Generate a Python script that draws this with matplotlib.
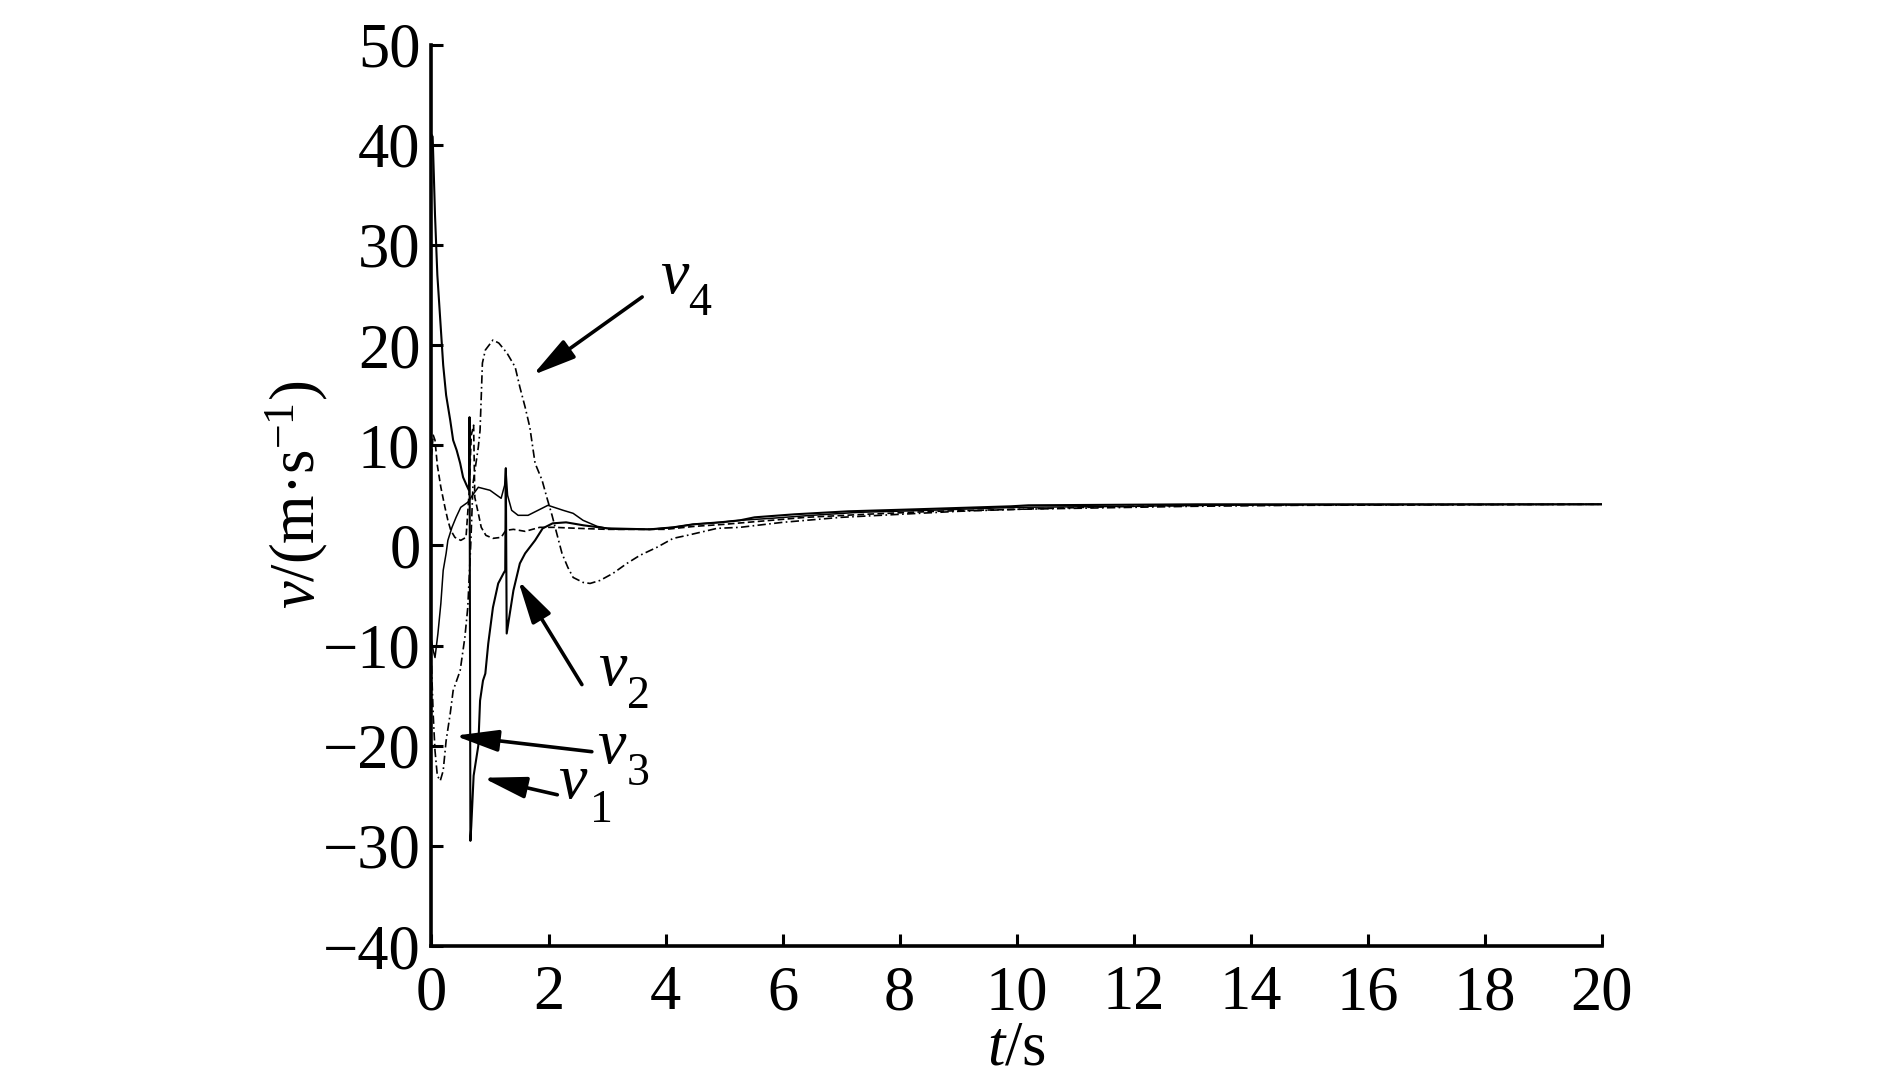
import matplotlib
matplotlib.use("Agg")
import matplotlib.pyplot as plt

plt.rcParams['font.family'] = 'Liberation Serif'
plt.rcParams['mathtext.fontset'] = 'custom'
plt.rcParams['mathtext.rm'] = 'Liberation Serif'
plt.rcParams['mathtext.it'] = 'Liberation Serif:italic'

# v1 - starter paa 40
t1 = [0.0, 0.02, 0.04, 0.06, 0.10, 0.15, 0.20, 0.25, 0.32, 0.37, 0.43, 0.49, 0.54, 0.60, 0.64, 0.65,
      0.665, 0.68, 0.72, 0.80, 0.83, 0.88, 0.92, 0.97, 1.05, 1.14, 1.23, 1.26, 1.27, 1.285, 1.40, 1.51,
      1.60, 1.77, 1.90, 2.07, 2.30, 2.60, 3.00, 3.73, 4.13, 4.47, 4.93, 5.27, 5.52, 6.20, 7.12, 8.27,
      9.90, 10.20, 13.10, 20.0]
v1 = [41.0, 40.8, 37.0, 33.0, 27.0, 22.5, 18.0, 15.0, 12.5, 10.5, 9.5, 8.2, 6.8, 6.0, 5.5, 12.8,
      -29.5, -28.0, -23.0, -20.0, -15.5, -13.5, -12.8, -9.8, -6.2, -3.8, -2.8, -2.5, 7.7, -8.8, -4.5, -1.8,
      -0.8, 0.5, 1.7, 2.2, 2.3, 2.0, 1.7, 1.6, 1.8, 2.1, 2.3, 2.5, 2.8, 3.1, 3.4, 3.6,
      3.9, 4.0, 4.1, 4.1]

# v2 - starter rundt 10
t2 = [0.0, 0.03, 0.06, 0.10, 0.16, 0.23, 0.28, 0.33, 0.40, 0.50, 0.59, 0.64, 0.68, 0.72, 0.74,
      0.80, 0.85, 0.93, 1.05, 1.19, 1.27, 1.40, 1.60, 1.85, 2.10, 2.50, 3.00, 4.00, 4.50, 5.00,
      5.60, 6.40, 7.40, 8.60, 10.0, 11.2, 12.0, 13.2, 14.8, 20.0]
v2 = [9.0, 11.0, 10.5, 8.0, 5.8, 3.8, 2.5, 1.5, 0.8, 0.5, 0.8, 5.0, 11.0, 12.0, 4.8,
      3.2, 1.8, 1.0, 0.7, 0.8, 1.5, 1.6, 1.4, 1.8, 1.8, 1.7, 1.6, 1.6, 1.9, 2.1,
      2.4, 2.8, 3.1, 3.4, 3.6, 3.8, 3.9, 4.0, 4.05, 4.1]

# v3 - starter rundt -10
t3 = [0.0, 0.03, 0.06, 0.11, 0.16, 0.20, 0.25, 0.28, 0.35, 0.42, 0.50, 0.62, 0.70, 0.80, 1.00,
      1.19, 1.25, 1.27, 1.30, 1.37, 1.48, 1.65, 1.82, 1.99, 2.25, 2.42, 2.59, 2.71, 2.83, 3.00,
      3.17, 3.73, 4.13, 4.47, 4.93, 5.27, 5.80, 6.50, 7.30, 8.50, 10.0, 12.0, 13.1, 14.8, 20.0]
v3 = [-9.5, -10.5, -11.2, -8.8, -5.8, -2.5, -0.8, 0.5, 1.8, 2.8, 3.8, 4.3, 5.0, 5.8, 5.5,
      4.7, 6.0, 7.7, 5.0, 3.5, 3.0, 3.0, 3.5, 4.0, 3.5, 3.2, 2.5, 2.2, 1.9, 1.7,
      1.6, 1.6, 1.8, 2.1, 2.3, 2.5, 2.7, 3.0, 3.3, 3.5, 3.8, 3.9, 4.0, 4.05, 4.1]

# v4 - stor topp paa ca 20
t4 = [0.0, 0.03, 0.06, 0.10, 0.15, 0.20, 0.25, 0.32, 0.37, 0.49, 0.57, 0.62, 0.67, 0.71, 0.76,
      0.80, 0.83, 0.85, 0.87, 0.92, 1.05, 1.15, 1.29, 1.43, 1.51, 1.60, 1.68, 1.77, 1.89, 1.97,
      2.06, 2.14, 2.23, 2.33, 2.42, 2.59, 2.71, 2.88, 3.10, 3.34, 3.56, 3.85, 4.13, 4.37, 4.59,
      4.88, 5.27, 6.0, 7.0, 8.0, 9.0, 10.0, 11.0, 12.0, 13.0, 14.8, 20.0]
v4 = [-12.0, -17.0, -20.5, -23.0, -23.5, -22.5, -19.5, -16.8, -14.5, -12.5, -9.2, -6.2, 0.0, 6.2, 8.2,
      9.8, 11.5, 14.8, 18.2, 19.5, 20.5, 20.2, 19.2, 17.8, 15.8, 13.8, 11.8, 8.2, 6.5, 4.8,
      3.0, 1.2, -0.8, -2.2, -3.2, -3.7, -3.8, -3.5, -2.8, -1.8, -1.0, -0.2, 0.7, 1.0, 1.3,
      1.7, 1.8, 2.3, 2.8, 3.1, 3.4, 3.6, 3.7, 3.8, 3.9, 4.0, 4.1]

x_ticks = [0, 2, 4, 6, 8, 10, 12, 14, 16, 18, 20]
y_ticks = [-40, -30, -20, -10, 0, 10, 20, 30, 40, 50]
indeks = ['1', '2', '3', '4']

fig = plt.figure(figsize=(18.9, 10.87), dpi=100)
ax = fig.add_axes([0.2283, 0.1297, 0.6193, 0.8293])

ax.plot(t1, v1, color='black', lw=1.5)
ax.plot(t2, v2, color='black', lw=1.2, linestyle=(0, (4, 2)))
ax.plot(t3, v3, color='black', lw=1.1)
ax.plot(t4, v4, color='black', lw=1.2, linestyle=(0, (5, 2, 1, 2)))

ax.set_xlim(0, 20)
ax.set_ylim(-40, 50)
ax.set_xticks(x_ticks)
ax.set_yticks(y_ticks)

ax.spines['top'].set_visible(False)
ax.spines['right'].set_visible(False)
ax.spines['left'].set_linewidth(2.6)
ax.spines['bottom'].set_linewidth(2.6)
ax.tick_params(direction='in', length=8.5, width=2.2, labelsize=45)
ax.tick_params(axis='y', pad=8)
ax.tick_params(axis='x', pad=14)

ax.set_xlabel('$t$/s', fontsize=45)
ax.set_ylabel('$v$/(m·s$^{-1}$)', fontsize=45)
ax.xaxis.set_label_coords(0.5, -0.083)
ax.yaxis.set_label_coords(-0.087, 0.5)

# piler og navn paa kurvene
pil = dict(arrowstyle='-|>,head_length=0.8,head_width=0.2', mutation_scale=33,
           color='black', lw=2.6, shrinkA=0, shrinkB=0)
ax.annotate('', xy=(0.88, -23.2), xytext=(2.15, -24.9), arrowprops=pil)
ax.annotate('', xy=(1.48, -3.5), xytext=(2.57, -13.9), arrowprops=pil)
ax.annotate('', xy=(0.40, -19.0), xytext=(2.74, -20.6), arrowprops=pil)
ax.annotate('', xy=(1.73, 17.0), xytext=(3.60, 24.8), arrowprops=pil)

# v med indeks under
ax.text(2.16, -25.2, 'v', fontsize=46, style='italic', ha='left', va='baseline')
ax.text(2.70, -27.6, indeks[0], fontsize=33, ha='left', va='baseline')
ax.text(2.85, -13.9, 'v', fontsize=46, style='italic', ha='left', va='baseline')
ax.text(3.34, -16.2, indeks[1], fontsize=33, ha='left', va='baseline')
ax.text(2.83, -21.7, 'v', fontsize=46, style='italic', ha='left', va='baseline')
ax.text(3.34, -23.9, indeks[2], fontsize=33, ha='left', va='baseline')
ax.text(3.90, 25.2, 'v', fontsize=46, style='italic', ha='left', va='baseline')
ax.text(4.38, 23.0, indeks[3], fontsize=33, ha='left', va='baseline')

plt.savefig('out.png', dpi=100)
